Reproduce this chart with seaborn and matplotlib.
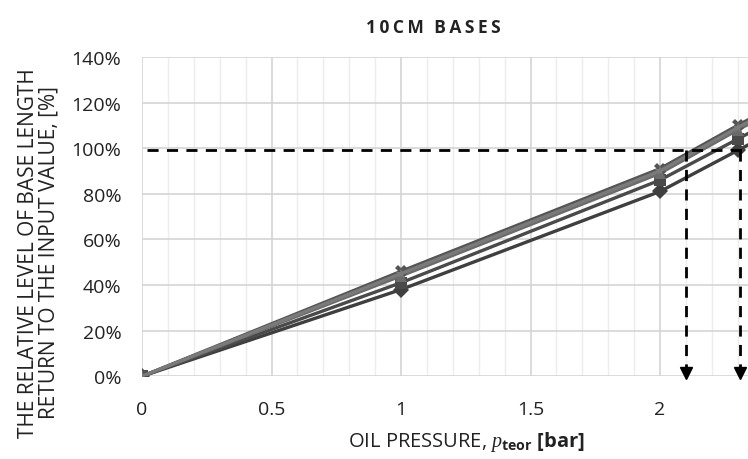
import numpy as np
import pandas as pd
import matplotlib
matplotlib.use("Agg")
import matplotlib.pyplot as plt
import seaborn as sns
from matplotlib.ticker import MultipleLocator, FuncFormatter

# ---- data ----
pressure = [0.0, 1.0, 2.0, 2.3, 2.5]
series_a = [0, 38, 81, 99, 111]    # diamond
series_b = [0, 41, 86, 104, 116]   # square
series_c = [0, 44, 89, 108, 120]   # triangle
series_d = [0, 46, 91, 110, 122]   # x
series_e = [0, 45, 90, 109, 121]   # star
names = ["A", "B", "C", "D", "E"]
ref_level = 99
arrow_x = [2.10, 2.31]

df = pd.DataFrame({
    "p": pressure * 5,
    "v": series_a + series_b + series_c + series_d + series_e,
    "s": sum([[n] * len(pressure) for n in names], []),
})

sns.set_style("white")
plt.rcParams["font.family"] = ["Open Sans", "DejaVu Sans"]
plt.rcParams["mathtext.fontset"] = "custom"
plt.rcParams["mathtext.it"] = "Liberation Serif:italic"
plt.rcParams["mathtext.bf"] = "Open Sans:bold"
plt.rcParams["mathtext.rm"] = "Open Sans"

fig = plt.figure(figsize=(7.48, 4.60), dpi=100)
ax = fig.add_axes([0.19, 0.18, 0.81, 0.694])

palette = {"A": "#3f3f3f", "B": "#4a4a4a", "C": "#6b6b6b", "D": "#555555", "E": "#7a7a7a"}
markers = {"A": "D", "B": "s", "C": "^", "D": "X", "E": "*"}
sns.lineplot(data=df, x="p", y="v", hue="s", style="s", palette=palette,
             markers=markers, dashes=False, linewidth=2.4, markersize=8,
             markeredgewidth=0, legend=False, ax=ax, zorder=3)

# reference dashed lines with arrows
ax.plot([0.02, 2.34], [ref_level, ref_level], ls=(0, (4, 3)), color="black", lw=2, zorder=4)
for xa in arrow_x:
    ax.plot([xa, xa], [ref_level, 3], ls=(0, (4, 3)), color="black", lw=2, zorder=4)
    ax.plot([xa], [1.5], marker="v", color="black", markersize=8, zorder=5, clip_on=False)

ax.set_xlim(0, 2.34)
ax.set_ylim(0, 140)
ax.xaxis.set_major_locator(MultipleLocator(0.5))
ax.xaxis.set_minor_locator(MultipleLocator(0.1))
ax.yaxis.set_major_locator(MultipleLocator(20))
ax.xaxis.set_major_formatter(FuncFormatter(lambda v, p: f"{v:g}"))
ax.yaxis.set_major_formatter(FuncFormatter(lambda v, p: f"{v:.0f}%"))
ax.grid(which="major", axis="both", color="#d4d4d4", lw=1.2)
ax.grid(which="minor", axis="x", color="#ececec", lw=1)
ax.set_axisbelow(True)
for sp in ax.spines.values():
    sp.set_visible(False)
ax.tick_params(axis="both", which="both", length=0, labelsize=14, colors="#222222")
ax.tick_params(axis="y", pad=15)
ax.tick_params(axis="x", pad=17)

ax.set_xlabel(r"OIL PRESSURE, $p_{\mathbf{teor}}$ $\mathbf{[bar]}$", fontsize=14.5, color="#222222")
ax.xaxis.set_label_coords(0.535, -0.165)
ax.set_ylabel("THE RELATIVE LEVEL OF BASE LENGTH\nRETURN TO THE INPUT VALUE, [%]", fontsize=15,
              color="#222222", linespacing=1.0)
ax.yaxis.set_label_coords(-0.136, 0.39)
title = "\u2009".join("10CM") + "\u2009\u2009\u2009" + "\u2009".join("BASES")
fig.text(0.58, 0.94, title, ha="center", va="center", fontsize=12.5,
         fontweight="bold", color="#222222")

fig.savefig("out.png", dpi=100)
